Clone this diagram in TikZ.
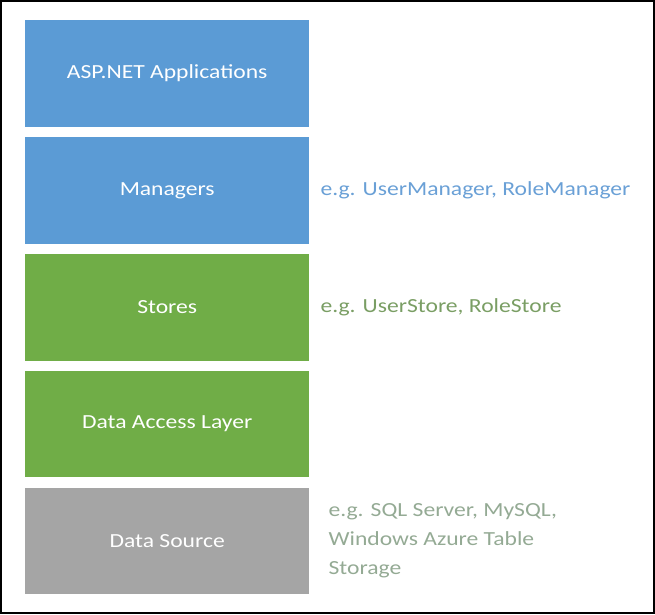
\documentclass[tikz,border=0pt]{standalone}
\usepackage{fontspec}
\setmainfont{Carlito}[FakeStretch=1.18]
\usetikzlibrary{positioning}
\definecolor{layerblue}{RGB}{91,155,213}
\definecolor{layergreen}{RGB}{112,173,71}
\definecolor{layergray}{RGB}{165,165,165}
\definecolor{noteblue}{RGB}{106,160,214}
\definecolor{notegreen}{RGB}{122,158,100}
\definecolor{notegray}{RGB}{148,170,148}
\tikzset{
    layer/.style={rectangle,minimum width=284pt,minimum height=106.5pt,inner sep=0pt,text=white,text centered,font=\fontsize{20}{24}\selectfont},
    note/.style={anchor=west,inner sep=0pt,align=left,font=\fontsize{20}{29}\selectfont},
}

\begin{document}
\begin{tikzpicture}[x=1pt,y=1pt,node distance=10pt]
\draw[line width=2pt] (1,-1) rectangle (654,-613);
\node[layer,fill=layerblue,anchor=north west] (apps) at (25,-20) {ASP.NET Applications};
\node[layer,fill=layerblue] (managers) [below=of apps] {Managers};
\node[layer,fill=layergreen] (stores) [below=of managers] {Stores};
\node[layer,fill=layergreen] (dal) [below=of stores] {Data Access Layer};
\node[layer,fill=layergray] (source) [below=of dal] {Data Source};
\node[note,text=noteblue] (managersnote) [right=11pt of managers] {e.g. UserManager, RoleManager};
\node[note,text=notegreen] (storesnote) [right=11pt of stores] {e.g. UserStore, RoleStore};
\node[note,text=notegray] (sourcenote) [right=19pt of source] {e.g. SQL Server, MySQL,\\Windows Azure Table\\Storage};
\end{tikzpicture}
\end{document}
